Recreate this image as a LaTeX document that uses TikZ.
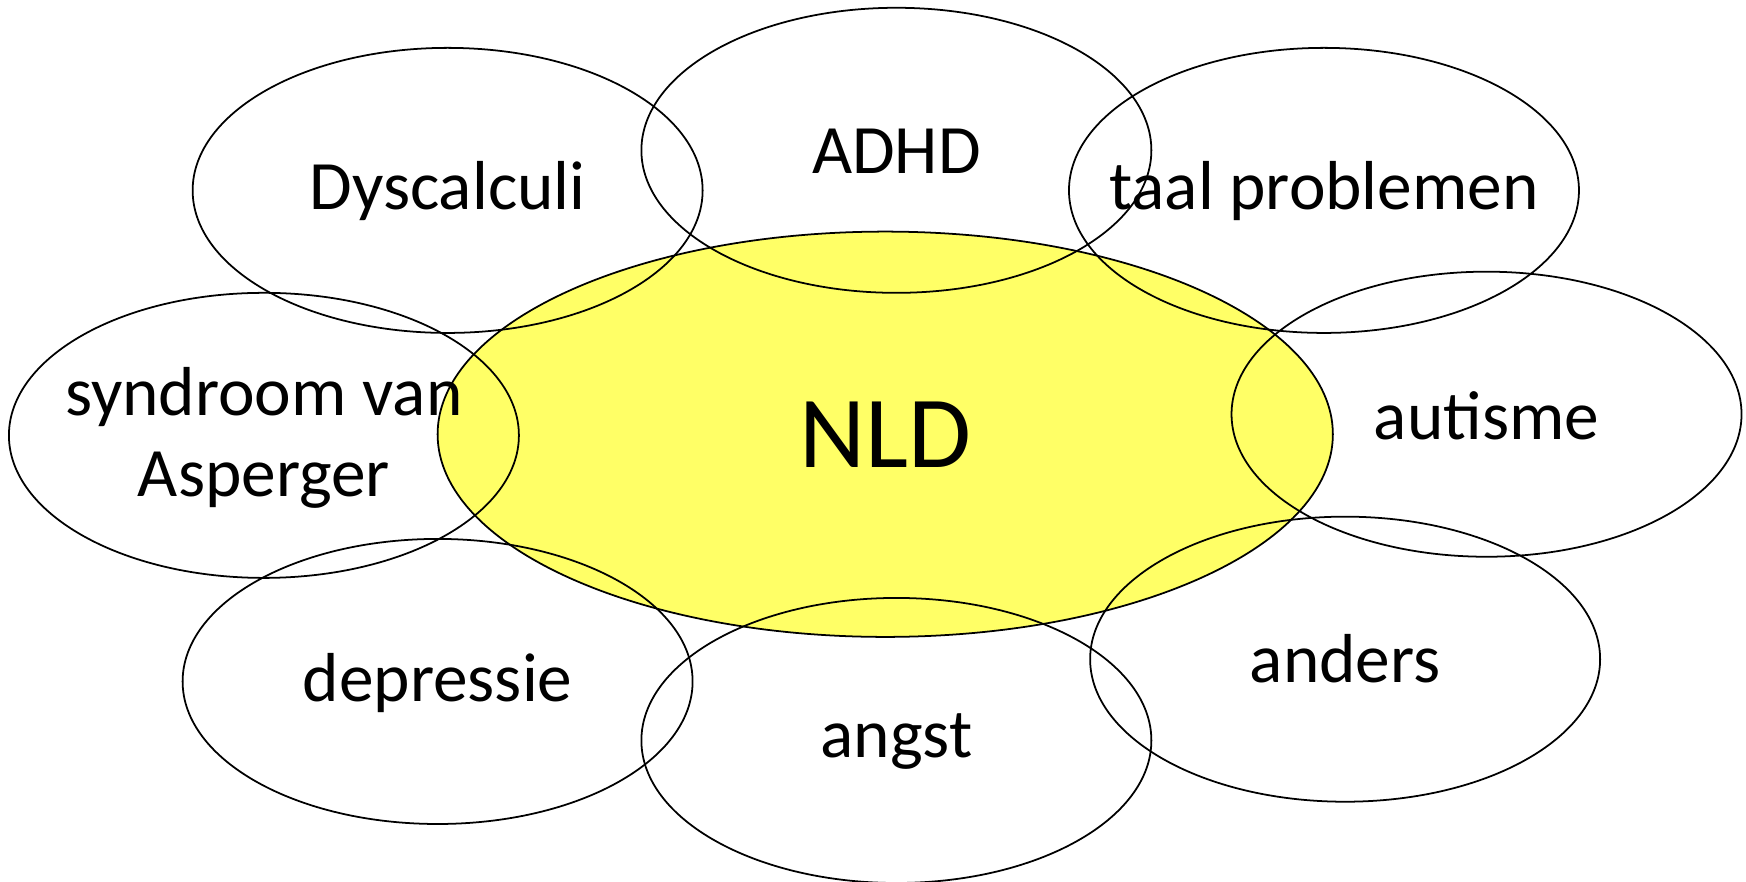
\documentclass[tikz,border=0pt]{standalone}
\usepackage{fontspec}
\setmainfont{Carlito}
\definecolor{nldyellow}{HTML}{FFFF66}
\begin{document}
\begin{tikzpicture}[x=0.01cm,y=-0.01cm,
  bubline/.style={line width=0.45pt},
  lbl/.style={font=\fontsize{17.7}{20.7}\selectfont,align=center,inner sep=0pt}]
\useasboundingbox (0,0) rectangle (1568,792);
% central filled ellipse
\fill[nldyellow] (795,390) ellipse [x radius=402, y radius=182];
\draw[bubline] (795,390) ellipse [x radius=402, y radius=182];
% outer ellipses
\draw[bubline] (402,171) ellipse [x radius=229, y radius=128];
\draw[bubline] (805,135) ellipse [x radius=229, y radius=128];
\draw[bubline] (1189,171) ellipse [x radius=229, y radius=128];
\draw[bubline] (237,391) ellipse [x radius=229, y radius=128];
\draw[bubline] (1335,372) ellipse [x radius=229, y radius=128];
\draw[bubline] (393,612) ellipse [x radius=229, y radius=128];
\draw[bubline] (805,665) ellipse [x radius=229, y radius=128];
\draw[bubline] (1208,592) ellipse [x radius=229, y radius=128];
% labels
\node[lbl,font=\fontsize{26.1}{30}\selectfont] (nld) at (795,390) {NLD};
\node[lbl] (dys) at (402,172) {Dyscalculi};
\node[lbl] (adhd) at (805,136) {ADHD};
\node[lbl] (taal) at (1189,172) {taal problemen};
\node[lbl] (asp) at (237,393) {syndroom van\\Asperger};
\node[lbl] (aut) at (1335,373) {autisme};
\node[lbl] (dep) at (393,613) {depressie};
\node[lbl] (angst) at (805,666) {angst};
\node[lbl] (anders) at (1208,592) {anders};
\end{tikzpicture}
\end{document}
